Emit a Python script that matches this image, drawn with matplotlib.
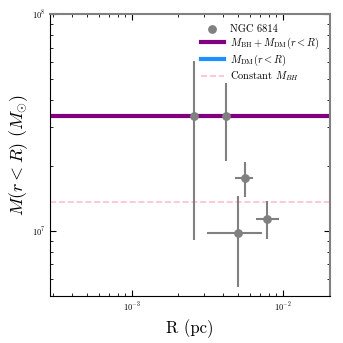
import numpy as np
import matplotlib
matplotlib.use("Agg")
import matplotlib.pyplot as plt

plt.rcParams['font.family'] = 'serif'
plt.rcParams['font.serif'] = ['cmr10', 'DejaVu Serif']
plt.rcParams['mathtext.fontset'] = 'cm'
plt.rcParams['axes.formatter.use_mathtext'] = True

# NGC 6814 enclosed mass measurements
r_pc = [2.55e-3, 4.18e-3, 5.54e-3, 5.04e-3, 7.84e-3]
r_lo = [2.55e-3, 4.18e-3, 4.81e-3, 3.11e-3, 6.60e-3]
r_hi = [2.55e-3, 4.18e-3, 6.27e-3, 7.22e-3, 9.42e-3]
m_enc = [3.4e7, 3.4e7, 1.76e7, 9.8e6, 1.13e7]
m_lo = [9.06e6, 2.1e7, 1.43e7, 5.52e6, 9.13e6]
m_hi = [6.1e7, 4.79e7, 2.07e7, 1.45e7, 1.37e7]

# model curves
r_model = [3e-4, 2e-2]
m_dm = [1e3, 1e3]
m_bh_dm = [3.4e7, 3.4e7]
m_bh_const = 1.36e7

xerr = [np.array(r_pc) - np.array(r_lo), np.array(r_hi) - np.array(r_pc)]
yerr = [np.array(m_enc) - np.array(m_lo), np.array(m_hi) - np.array(m_enc)]

fig, ax = plt.subplots(figsize=(3.43, 3.43), dpi=100)
fig.subplots_adjust(left=0.146, right=0.962, top=0.959, bottom=0.137)

ax.scatter(r_pc, m_enc, s=28, color='gray', label='NGC 6814', zorder=4)
ax.errorbar(r_pc, m_enc, xerr=xerr, yerr=yerr, fmt='none', ecolor='gray',
            elinewidth=1.5, capsize=0, zorder=3)
ax.plot(r_model, m_bh_dm, color='purple', lw=3,
        label=r'$M_{\rm BH}+M_{\rm DM}(r<R)$')
ax.plot(r_model, m_dm, color='dodgerblue', lw=3,
        label=r'$M_{\rm DM}(r<R)$')
ax.axhline(m_bh_const, color='pink', ls='--', lw=1.2,
           label=r'Constant $M_{BH}$')

ax.set_xscale('log')
ax.set_yscale('log')
ax.set_xlim(2.85e-4, 2.04e-2)
ax.set_ylim(5e6, 1e8)
ax.set_xlabel('R (pc)', fontsize=12)
ax.set_ylabel(r'$M(r<R)\ (M_{\odot})$', fontsize=13, labelpad=1)
ax.tick_params(which='both', direction='in', top=True, right=True, labelsize=6)
ax.tick_params(which='major', length=4)
ax.tick_params(which='minor', length=2)

for s in ['top', 'right']:
    ax.spines[s].set_color('gray')
    ax.spines[s].set_linewidth(1.5)

ax.legend(loc='upper right', frameon=False, fontsize=7.5, handlelength=2.2,
          handletextpad=0.6, bbox_to_anchor=(1.0, 1.0), labelspacing=0.15,
          borderaxespad=0.6)

fig.savefig('out.png', dpi=100)
